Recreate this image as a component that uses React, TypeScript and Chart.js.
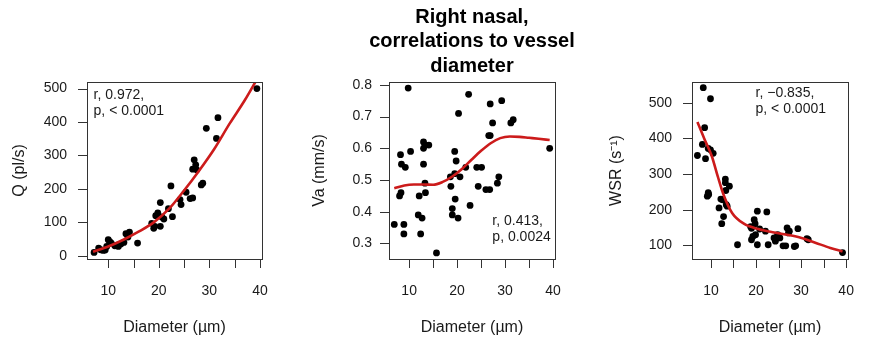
import React, { useEffect, useRef } from "react";
import { Chart, registerables } from "chart.js";

Chart.register(...registerables);

const FONT = '"Liberation Sans", Arial, Helvetica, sans-serif';
const INK = "#1a1a1a";
const FIT_RED = "#cc1b1b";

// Shared diameter axis
const diameterRange = [5.8, 40.4];
const diameterTicks = [10, 15, 20, 25, 30, 35, 40];
const diameterTickLabels = ["10", "", "20", "", "30", "", "40"];

// Flow rate Q (pl/s) against vessel diameter
const qDiameter = [7.2, 8.1, 8.5, 9.0, 9.4, 9.7, 10.0, 10.3, 10.6, 11.3, 11.8, 12.0, 12.5, 13.1, 13.5, 13.9, 14.2, 15.8, 18.6, 19.0, 19.2, 19.4, 19.8, 20.3, 20.3, 20.6, 21.0, 21.9, 22.4, 22.7, 24.2, 24.4, 25.4, 26.2, 26.7, 26.7, 27.0, 27.3, 27.5, 28.4, 28.7, 29.4, 31.4, 31.7, 39.4];
const qFlow = [10, 23, 18, 16, 17, 28, 48, 42, 38, 30, 32, 28, 35, 40, 66, 56, 71, 38, 97, 82, 88, 120, 128, 159, 88, 116, 110, 141, 209, 117, 168, 153, 190, 171, 173, 259, 287, 272, 257, 212, 217, 381, 351, 413, 500];
const qFitDiameter = [7, 10, 13, 16, 19, 22, 25, 28, 31, 34, 37, 39.5];
const qFit = [12, 28, 48, 72, 100, 140, 195, 255, 320, 395, 465, 530];
const qTicks = [0, 100, 200, 300, 400, 500];
const qTickLabels = ["0", "100", "200", "300", "400", "500"];

// Mean velocity Va (mm/s) against vessel diameter
const vaDiameter = [6.9, 8.2, 8.4, 8.0, 8.3, 8.9, 8.9, 9.2, 9.8, 10.3, 11.9, 12.7, 12.1, 12.4, 13.0, 13.3, 14.1, 13.0, 13.0, 13.3, 13.4, 15.7, 18.6, 18.7, 19.0, 19.0, 19.5, 19.5, 19.8, 19.6, 20.2, 20.3, 20.6, 21.8, 22.4, 22.7, 24.1, 25.1, 24.4, 26.0, 26.8, 26.6, 26.9, 26.9, 27.4, 28.4, 28.7, 29.3, 31.2, 31.7, 39.3];
const vaVelocity = [0.36, 0.58, 0.55, 0.45, 0.46, 0.36, 0.33, 0.54, 0.79, 0.59, 0.39, 0.38, 0.45, 0.33, 0.62, 0.61, 0.61, 0.6, 0.55, 0.49, 0.46, 0.27, 0.51, 0.48, 0.41, 0.39, 0.59, 0.52, 0.56, 0.44, 0.38, 0.71, 0.51, 0.54, 0.77, 0.42, 0.54, 0.54, 0.48, 0.47, 0.47, 0.64, 0.64, 0.74, 0.68, 0.49, 0.51, 0.75, 0.68, 0.69, 0.6];
const vaFitDiameter = [6.9, 9, 11, 13, 15, 17, 19, 21, 23, 25, 27, 29, 31, 33, 35, 37, 39.3];
const vaFit = [0.474, 0.483, 0.486, 0.486, 0.485, 0.494, 0.511, 0.535, 0.564, 0.592, 0.616, 0.632, 0.637, 0.636, 0.633, 0.63, 0.626];
const vaTicks = [0.3, 0.4, 0.5, 0.6, 0.7, 0.8];
const vaTickLabels = ["0.3", "0.4", "0.5", "0.6", "0.7", "0.8"];

// Wall shear rate WSR (1/s) against vessel diameter
const wsrDiameter = [7.0, 8.3, 8.6, 8.1, 8.8, 9.9, 9.4, 9.9, 10.5, 9.2, 9.4, 9.5, 11.8, 12.2, 12.6, 12.4, 12.8, 13.2, 13.2, 13.3, 14.1, 13.4, 13.6, 15.9, 18.8, 19.0, 19.0, 19.3, 19.9, 19.6, 19.8, 20.3, 20.3, 20.8, 22.1, 22.4, 22.7, 24.0, 24.3, 24.8, 25.3, 26.0, 26.6, 26.9, 27.2, 27.4, 28.5, 28.8, 29.3, 31.3, 31.6, 39.2];
const wsrRate = [352, 542, 430, 383, 343, 511, 372, 368, 358, 238, 248, 243, 205, 230, 228, 161, 181, 286, 276, 254, 266, 214, 210, 102, 153, 148, 116, 125, 130, 172, 161, 196, 102, 146, 140, 194, 102, 121, 112, 130, 121, 99, 99, 149, 135, 140, 97, 99, 147, 119, 116, 80];
const wsrFitDiameter = [7.0, 8.6, 10.2, 11.5, 12.8, 14.7, 17.3, 20.5, 23.7, 26.9, 30.1, 33.3, 36.5, 39.2];
const wsrFit = [446, 397, 350, 294, 242, 191, 161, 146, 137, 130, 121, 107, 93, 83];
const wsrTicks = [100, 200, 300, 400, 500];
const wsrTickLabels = ["100", "200", "300", "400", "500"];

const titleLines = ["Right nasal,", "correlations to vessel", "diameter"];

type Panel = {
  left: number;
  width: number;
  plotLeft: number;
  padRight: number;
  labelGap: number;
  yTitleGap: number;
  xs: number[];
  ys: number[];
  fitXs: number[];
  fitYs: number[];
  yRange: number[];
  yTicks: number[];
  yTickLabels: string[];
  yTitle: string;
  notes: string[];
  noteAt: number[];
  title?: string[];
};

const panels: Panel[] = [
  {
    left: 0, width: 292, plotLeft: 87, padRight: 25, labelGap: 20, yTitleGap: 10.4,
    xs: qDiameter, ys: qFlow, fitXs: qFitDiameter, fitYs: qFit,
    yRange: [-9.6, 519.6], yTicks: qTicks, yTickLabels: qTickLabels,
    yTitle: "Q (pl/s)", notes: ["r, 0.972,", "p, < 0.0001"], noteAt: [7.1, 480],
  },
  {
    left: 292, width: 293, plotLeft: 97, padRight: 16, labelGap: 17, yTitleGap: 18.4,
    xs: vaDiameter, ys: vaVelocity, fitXs: vaFitDiameter, fitYs: vaFit,
    yRange: [0.251, 0.809], yTicks: vaTicks, yTickLabels: vaTickLabels,
    yTitle: "Va (mm/s)", notes: ["r, 0.413,", "p, 0.0024"], noteAt: [27.35, 0.369],
    title: titleLines,
  },
  {
    left: 585, width: 293, plotLeft: 107, padRight: 6, labelGap: 20, yTitleGap: 22.4,
    xs: wsrDiameter, ys: wsrRate, fitXs: wsrFitDiameter, fitYs: wsrFit,
    yRange: [62, 558], yTicks: wsrTicks, yTickLabels: wsrTickLabels,
    yTitle: "WSR (s\u207B\u00B9)", notes: ["r, \u22120.835,", "p, < 0.0001"], noteAt: [19.9, 526],
  },
];

const TICK_LEN = 9;
const PLOT_TOP = 82;

function framePlugin(p: Panel) {
  return {
    id: "frame",
    afterDatasetsDraw(chart: any) {
      const { ctx, chartArea: a, scales } = chart;
      const xs = scales.x;
      const ys = scales.y;
      ctx.save();
      ctx.strokeStyle = "#333";
      ctx.lineWidth = 1;
      ctx.strokeRect(Math.round(a.left) + 0.5, Math.round(a.top) + 0.5, Math.round(a.right - a.left), Math.round(a.bottom - a.top));
      ctx.beginPath();
      xs.ticks.forEach((t: any) => {
        const px = Math.round(xs.getPixelForValue(t.value)) + 0.5;
        ctx.moveTo(px, a.bottom);
        ctx.lineTo(px, a.bottom + TICK_LEN);
      });
      ys.ticks.forEach((t: any) => {
        const py = Math.round(ys.getPixelForValue(t.value)) + 0.5;
        ctx.moveTo(a.left, py);
        ctx.lineTo(a.left - TICK_LEN, py);
      });
      ctx.stroke();
      // correlation note
      ctx.fillStyle = INK;
      ctx.font = `14px ${FONT}`;
      ctx.textAlign = "left";
      ctx.textBaseline = "middle";
      const nx = xs.getPixelForValue(p.noteAt[0]);
      const ny = ys.getPixelForValue(p.noteAt[1]);
      p.notes.forEach((line, i) => ctx.fillText(line, nx, ny + i * 16));
      // panel heading, centred over the plot box
      if (p.title) {
        ctx.fillStyle = "#000";
        ctx.font = `bold 20px ${FONT}`;
        ctx.textAlign = "center";
        const cx = (a.left + a.right) / 2;
        p.title.forEach((line, i) => ctx.fillText(line, cx, 17 + i * 24.5));
      }
      ctx.restore();
    },
  };
}

function labelFor(values: number[], labels: string[]) {
  return (v: any) => {
    const i = values.findIndex((t) => Math.abs(t - Number(v)) < 1e-9);
    return i >= 0 ? labels[i] : "";
  };
}

function PanelChart({ p }: { p: Panel }) {
  const ref = useRef<HTMLCanvasElement | null>(null);
  useEffect(() => {
    if (!ref.current) return;
    const points = p.xs.map((x, i) => ({ x, y: p.ys[i] }));
    const fit = p.fitXs.map((x, i) => ({ x, y: p.fitYs[i] }));
    const chart = new Chart(ref.current, {
      type: "scatter",
      data: {
        datasets: [
          {
            data: fit,
            showLine: true,
            borderColor: FIT_RED,
            borderWidth: 2.6,
            pointRadius: 0,
            cubicInterpolationMode: "monotone",
            fill: false,
          },
          {
            data: points,
            backgroundColor: "#000",
            borderWidth: 0,
            pointRadius: 3.4,
            showLine: false,
          },
        ],
      },
      options: {
        responsive: false,
        animation: false,
        devicePixelRatio: 1,
        events: [],
        layout: { padding: { left: 0, right: p.padRight, top: PLOT_TOP, bottom: 0 } },
        plugins: {
          legend: { display: false },
          tooltip: { enabled: false },
          title: { display: false },
        },
        scales: {
          x: {
            type: "linear",
            position: "bottom",
            min: diameterRange[0],
            max: diameterRange[1],
            afterBuildTicks: (s: any) => {
              s.ticks = diameterTicks.map((v) => ({ value: v }));
            },
            afterFit: (s: any) => {
              s.height = 85;
            },
            grid: { display: false, drawTicks: false },
            border: { display: false },
            ticks: {
              padding: 24,
              autoSkip: false,
              maxRotation: 0,
              color: INK,
              font: { family: FONT, size: 14 },
              callback: labelFor(diameterTicks, diameterTickLabels),
            },
            title: {
              display: true,
              text: "Diameter (\u00B5m)",
              color: INK,
              font: { family: FONT, size: 16 },
              padding: { top: 0, bottom: 6.4 },
            },
          },
          y: {
            type: "linear",
            min: p.yRange[0],
            max: p.yRange[1],
            afterBuildTicks: (s: any) => {
              s.ticks = p.yTicks.map((v) => ({ value: v }));
            },
            afterFit: (s: any) => {
              s.width = p.plotLeft;
            },
            grid: { display: false, drawTicks: false },
            border: { display: false },
            ticks: {
              padding: p.labelGap,
              autoSkip: false,
              color: INK,
              font: { family: FONT, size: 14 },
              callback: labelFor(p.yTicks, p.yTickLabels),
            },
            title: {
              display: true,
              text: p.yTitle,
              color: INK,
              font: { family: FONT, size: 16 },
              padding: { top: p.yTitleGap, bottom: 0 },
            },
          },
        },
      },
      plugins: [framePlugin(p)],
    } as any);
    return () => chart.destroy();
  }, [p]);
  return (
    <canvas
      ref={ref}
      width={p.width}
      height={344}
      style={{ position: "absolute", left: p.left, top: 0, width: p.width, height: 344 }}
    />
  );
}

export default function App() {
  return (
    <div style={{ position: "fixed", left: 0, top: 0, width: 878, height: 344, background: "#fff" }}>
      {panels.map((p, i) => (
        <PanelChart key={i} p={p} />
      ))}
    </div>
  );
}
